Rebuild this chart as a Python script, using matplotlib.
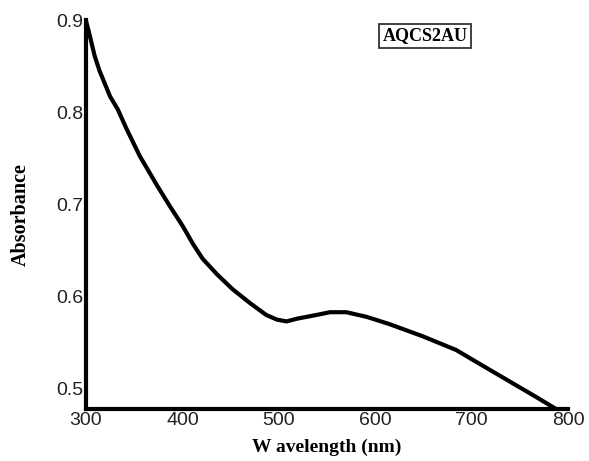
import matplotlib
matplotlib.use("Agg")
import matplotlib.pyplot as plt

# values
wavelength = [300, 303, 309, 314, 325, 333, 342, 356, 374, 387, 400, 411, 421,
              436, 452, 470, 487, 498, 508, 519, 539, 553, 570, 591, 615, 649,
              684, 705, 736, 767, 786]
absorbance = [0.899, 0.887, 0.861, 0.845, 0.817, 0.803, 0.782, 0.752, 0.720,
              0.698, 0.677, 0.657, 0.641, 0.624, 0.608, 0.593, 0.580, 0.575,
              0.573, 0.576, 0.580, 0.583, 0.583, 0.578, 0.570, 0.557, 0.542,
              0.529, 0.510, 0.491, 0.479]
xticks = [300, 400, 500, 600, 700, 800]
yticks = [0.5, 0.6, 0.7, 0.8, 0.9]


def main():
    fig = plt.figure(figsize=(5.89, 4.61), dpi=100)
    ax = fig.add_axes([86 / 589, 1 - 409 / 461, 482 / 589, 389 / 461])

    ax.plot(wavelength, absorbance, color="black", linewidth=3)
    ax.set_xlim(300, 800)
    ax.set_ylim(0.478, 0.9)

    ax.spines["top"].set_visible(False)
    ax.spines["right"].set_visible(False)
    ax.spines["left"].set_linewidth(3)
    ax.spines["bottom"].set_linewidth(3)

    ax.set_xticks(xticks)
    ax.set_xticklabels([str(t) for t in xticks])
    ax.set_yticks(yticks)
    ax.set_yticklabels([str(t) for t in yticks])
    ax.tick_params(length=0, labelsize=14, labelcolor="#222222", pad=2,
                   labelfontfamily="Liberation Sans")

    ax.set_xlabel("W avelength (nm)", fontsize=14, fontweight="bold",
                  family="Liberation Serif", labelpad=7)
    ax.set_ylabel("Absorbance", fontsize=14.5, fontweight="bold",
                  family="Liberation Serif", labelpad=18)

    ax.text(0.703, 0.959, "AQCS2AU", transform=ax.transAxes, fontsize=13,
            fontweight="bold", family="Liberation Serif", ha="center", va="center",
            bbox=dict(boxstyle="square,pad=0.2", facecolor="white",
                      edgecolor="#333333", linewidth=1.3))

    fig.savefig("out.png", dpi=100)


if __name__ == "__main__":
    main()
